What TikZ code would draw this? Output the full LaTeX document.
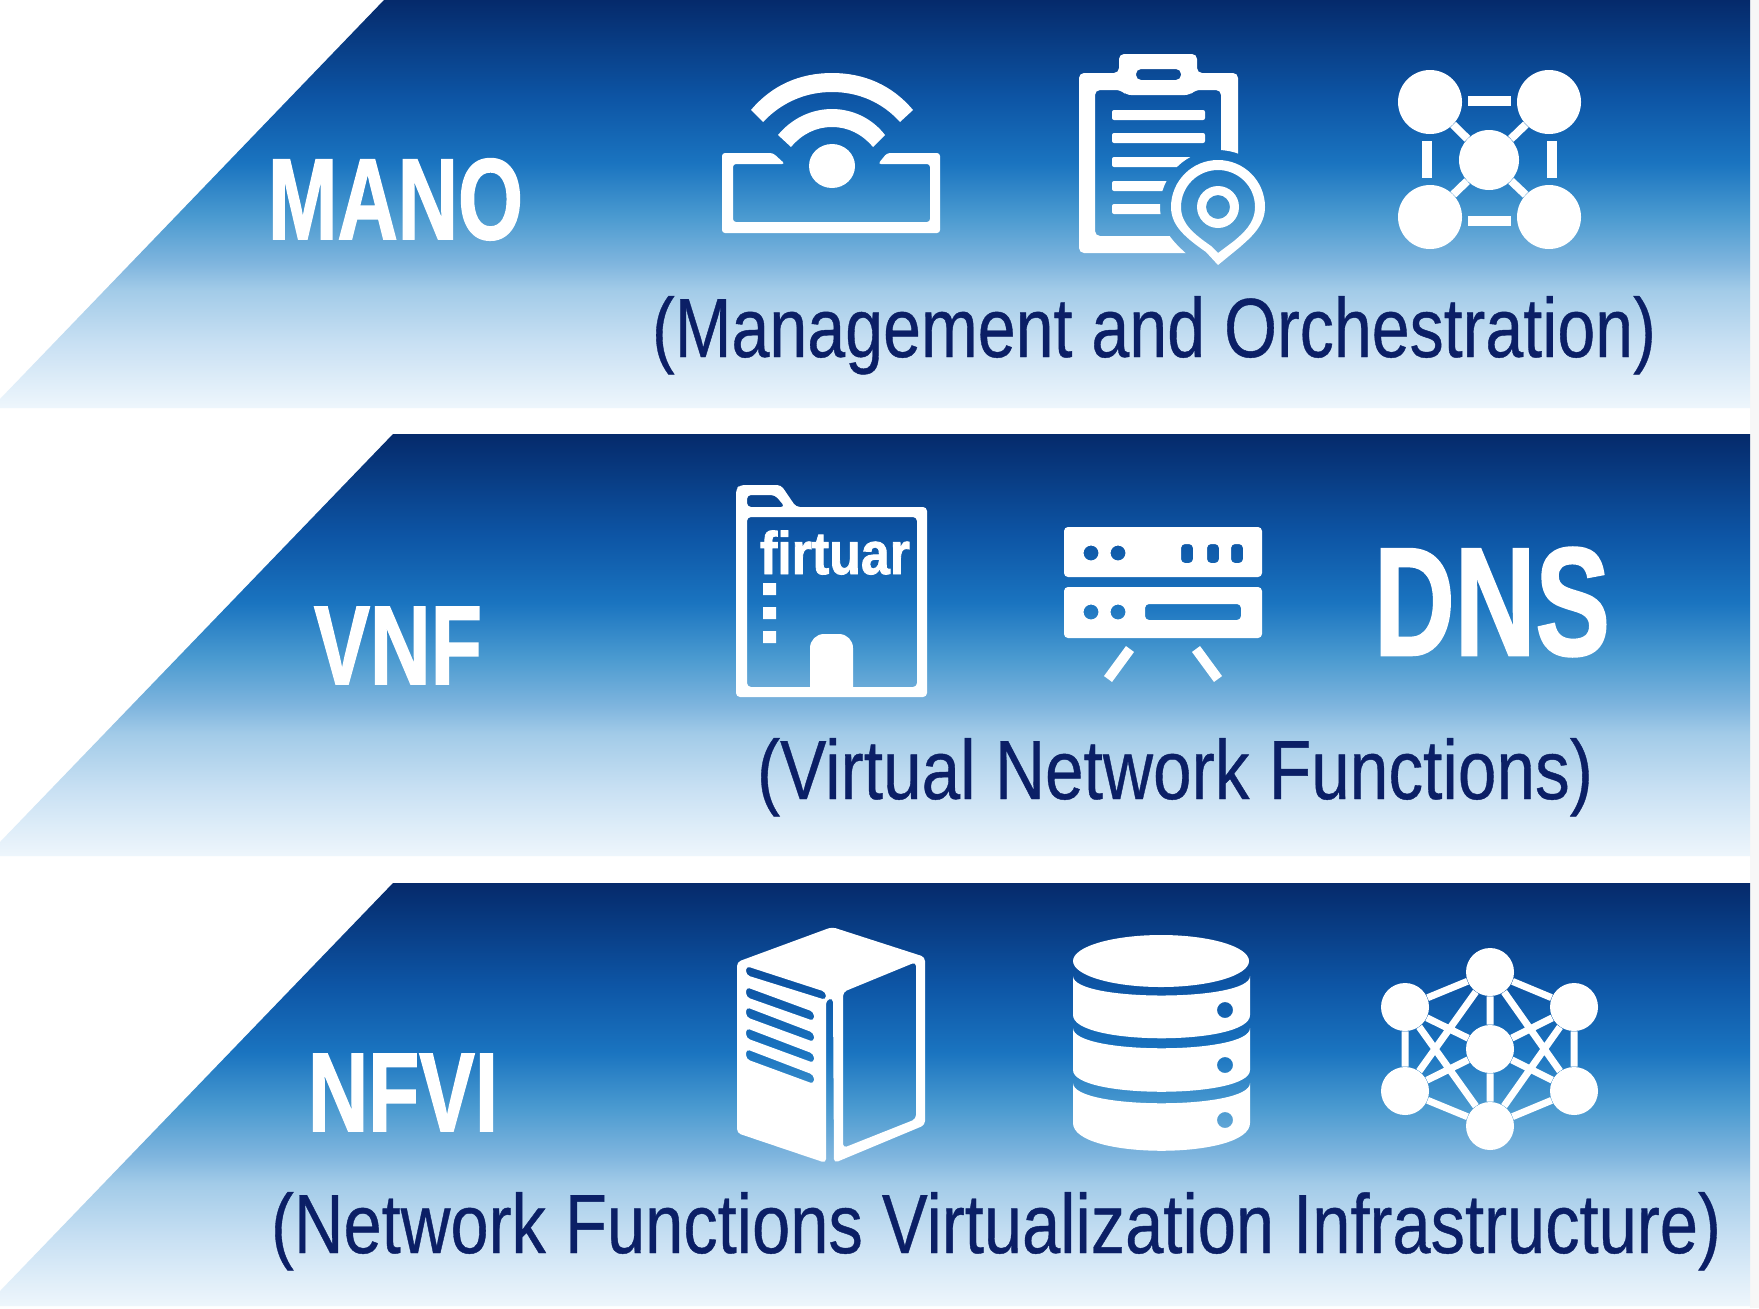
\documentclass[tikz,border=0pt]{standalone}
\usepackage{fontspec}
\setmainfont{Liberation Sans}
\newfontfamily\heavyf{Liberation Sans}[BoldFeatures={FakeBold=1.6}]
\newfontfamily\descf{Liberation Sans}[FakeBold=0.5]
\definecolor{navy}{HTML}{0B1F66}
\definecolor{c0}{HTML}{EEF6FC}
\definecolor{c1}{HTML}{C8E0F3}
\definecolor{c2}{HTML}{A2CBE8}
\definecolor{c3}{HTML}{7FB5DE}
\definecolor{c4}{HTML}{4A9AD0}
\definecolor{c5}{HTML}{1A74C0}
\definecolor{c6}{HTML}{0D55A5}
\definecolor{c7}{HTML}{052A6B}
\definecolor{strip}{HTML}{F7F7F7}
\pgfdeclareverticalshading{bandgrad}{100bp}{
  color(0bp)=(c0);color(25bp)=(c0);color(33bp)=(c1);color(39.5bp)=(c2);color(42.75bp)=(c3);color(48.5bp)=(c4);color(55bp)=(c5);color(63bp)=(c6);color(75bp)=(c7);color(100bp)=(c7)
}
\newcommand{\fitted}[3]{\resizebox{#1pt}{\height}{\fontsize{#2}{#2}\selectfont #3}}
\tikzset{
  band/.style={shading=bandgrad},
  ink/.style={fill=white,draw=none},
  hole/.style={fill=white,even odd rule,draw=none},
  title/.style={text=white,font=\heavyf\bfseries,inner sep=0pt,outer sep=0pt,anchor=base west},
  desc/.style={text=navy,font=\descf,inner sep=0pt,outer sep=0pt,anchor=base west},
  dot/.style={circle,fill=white,draw=none,inner sep=0pt,minimum size=#1},
  link/.style={draw=white,line width=#1},
  bar/.style={fill=white,draw=none,rounded corners=1pt}
}
\begin{document}
\begin{tikzpicture}[x=0.5pt,y=-0.5pt]
\useasboundingbox (0,0) rectangle (1759,1308);
\fill[white] (0,0) rectangle (1759,1308);
\fill[strip] (1750,0) rectangle (1759,1308);
% bands
\shade[band] (384,0) -- (1750,0) -- (1750,408) -- (0,408) -- (0,399) -- cycle;
\shade[band] (393,434) -- (1750,434) -- (1750,856) -- (0,856) -- (0,842) -- cycle;
\shade[band] (393,883) -- (1750,883) -- (1750,1306) -- (0,1306) -- (0,1291) -- cycle;
% titles
\node[title] (mano) at (268,239) {\fitted{127.5}{57.5}{MANO}};
\node[title] (vnf) at (314,684) {\fitted{84}{56}{VNF}};
\node[title] (nfvi) at (308,1131) {\fitted{95}{56}{NFVI}};
\node[title] (dns) at (1374,655) {\fitted{118}{77}{DNS}};
% descriptions
\node[desc] (d1) at (652,357) {\fitted{502}{42}{(Management and Orchestration)}};
\node[desc] (d2) at (757,799) {\fitted{418}{42}{(Virtual Network Functions)}};
\node[desc] (d3) at (271,1253) {\fitted{725}{42}{(Network Functions Virtualization Infrastructure)}};
% router icon
\fill[hole,rounded corners=1.5pt] (722,153) -- (773,153) -- (785,164) -- (733,164) -- (733,222) -- (930,222) -- (930,164) -- (878,164) -- (887,153) -- (940,153) -- (940,233) -- (722,233) -- cycle;
\fill[ink] (832,166) ellipse [x radius=23,y radius=22];
\fill[ink] (751,110) .. controls (772,85) and (800,73) .. (832,73) .. controls (864,73) and (892,85) .. (913,110) -- (900,122) .. controls (882,102) and (858,92) .. (832,92) .. controls (806,92) and (782,102) .. (763,122) -- cycle;
\fill[ink] (778,135) .. controls (792,118) and (812,109) .. (832,109) .. controls (852,109) and (872,118) .. (885,135) -- (873,147) .. controls (862,134) and (848,127) .. (832,127) .. controls (816,127) and (802,134) .. (791,147) -- cycle;
% clipboard icon
\begin{scope}[even odd rule]
\clip (0,0) rectangle (1759,1308)
  (1218,150) .. controls (1250,150) and (1276,176) .. (1276,207) .. controls (1276,232) and (1258,246) .. (1245,258) -- (1218,280) -- (1191,258) .. controls (1178,246) and (1160,232) .. (1160,207) .. controls (1160,176) and (1186,150) .. (1218,150) -- cycle;
\fill[hole,rounded corners=2.5pt] (1079,73) -- (1119,73) -- (1119,54) -- (1197,54) -- (1197,73) -- (1238,73) -- (1238,253) -- (1079,253) -- cycle
  (1095,90) -- (1121,90) -- (1126,95) -- (1190,95) -- (1195,90) -- (1221,90) -- (1221,236) -- (1095,236) -- cycle
  (1136,69) -- (1181,69) -- (1181,80) -- (1136,80) -- cycle;
\fill[bar] (1112,110) rectangle (1205,120);
\fill[bar] (1112,133) rectangle (1205,143);
\fill[bar] (1112,157) rectangle (1205,167);
\fill[bar] (1112,181) rectangle (1205,191);
\fill[bar] (1112,204) rectangle (1205,214);
\end{scope}
\fill[hole] (1218,160) .. controls (1244,160) and (1265,181) .. (1265,207) .. controls (1265,226) and (1250,238) .. (1240,247) -- (1218,265) -- (1206,252) .. controls (1186,238) and (1171,226) .. (1171,207) .. controls (1171,181) and (1192,160) .. (1218,160) -- cycle
 (1218,170) .. controls (1238,170) and (1255,186) .. (1255,207) .. controls (1255,224) and (1242,234) .. (1234,241) -- (1218,253) -- (1211,246) .. controls (1194,234) and (1181,224) .. (1181,207) .. controls (1181,186) and (1198,170) .. (1218,170) -- cycle;
\fill[hole] (1218,207) circle [radius=21] (1218,207) circle [radius=12];
% manage network icon
\node[dot=32pt] (n1) at (1430,102) {};
\node[dot=32pt] (n2) at (1549,102) {};
\node[dot=32pt] (n3) at (1430,217) {};
\node[dot=32pt] (n4) at (1549,217) {};
\node[dot=30pt] (n5) at (1489,160) {};
\draw[link=4pt] (n1) -- (n5) (n2) -- (n5) (n3) -- (n5) (n4) -- (n5);
\coordinate (t1) at (1468,101); \coordinate (t2) at (1511,101);
\coordinate (b1) at (1468,221); \coordinate (b2) at (1511,221);
\coordinate (l1) at (1427,141); \coordinate (l2) at (1427,178);
\coordinate (r1) at (1552,141); \coordinate (r2) at (1552,178);
\draw[link=5pt] (t1) -- (t2) (b1) -- (b2) (l1) -- (l2) (r1) -- (r2);
% folder icon
\fill[hole,rounded corners=2pt] (736,697) -- (736,489) -- (740,485) -- (781,485) -- (796,507) -- (927,507) -- (927,697) -- cycle
  (747,687) -- (917,687) -- (917,517) -- (747,517) -- cycle
  (747,495) -- (775,495) -- (785,507) -- (747,507) -- cycle;
\node[title,anchor=base] (firt) at (835,574) {\fitted{75}{30}{firtuar}};
\fill[ink] (763,583) rectangle (776,595) (763,607) rectangle (776,619) (763,631) rectangle (776,643);
\fill[ink] (810,690) [rounded corners=7pt] -- (810,634) -- (853,634) [sharp corners] -- (853,690) -- cycle;
% server icon
\fill[hole,rounded corners=2pt] (1064,527) -- (1262,527) -- (1262,577) -- (1064,577) -- cycle
  (1181,544) -- (1193,544) -- (1193,563) -- (1181,563) -- cycle
  (1207,544) -- (1219,544) -- (1219,563) -- (1207,563) -- cycle
  (1231,544) -- (1243,544) -- (1243,563) -- (1231,563) -- cycle
  (1091,553) circle [radius=7.5] (1118,553) circle [radius=7.5];
\fill[hole,rounded corners=2pt] (1064,587) -- (1262,587) -- (1262,638) -- (1064,638) -- cycle
  (1145,604) -- (1241,604) -- (1241,620) -- (1145,620) -- cycle
  (1091,612) circle [radius=7.5] (1118,612) circle [radius=7.5];
\coordinate (s1) at (1130,649); \coordinate (s2) at (1108,679);
\coordinate (s3) at (1196,649); \coordinate (s4) at (1218,679);
\draw[link=5pt] (s1) -- (s2) (s3) -- (s4);
% tower icon
\fill[hole,rounded corners=2pt] (832,927) -- (925,957) -- (925,1125) -- (834,1163) -- (833,998) -- (826,1000) -- (826,1163) -- (737,1133) -- (737,962) -- cycle
  (843,992) -- (916,962) -- (916,1119) -- (843,1148) -- cycle
  (746,966) -- (826,992) -- (826,1000) -- (746,975) -- cycle
  (746,987) -- (814,1012) -- (814,1021) -- (746,997) -- cycle
  (746,1007) -- (814,1033) -- (814,1042) -- (746,1017) -- cycle
  (746,1028) -- (814,1054) -- (814,1063) -- (746,1038) -- cycle
  (746,1049) -- (814,1075) -- (814,1084) -- (746,1059) -- cycle;
% database icon
\fill[ink] (1161,961) ellipse [x radius=88,y radius=26];
\fill[hole] (1073,976) .. controls (1073,1002) and (1250,1002) .. (1250,976) -- (1250,1015) .. controls (1250,1046) and (1073,1046) .. (1073,1015) -- cycle (1225,1010) circle [radius=8];
\fill[hole] (1073,1028) .. controls (1073,1055) and (1250,1055) .. (1250,1028) -- (1250,1070) .. controls (1250,1099) and (1073,1099) .. (1073,1070) -- cycle (1225,1065) circle [radius=8];
\fill[hole] (1073,1083) .. controls (1073,1110) and (1250,1110) .. (1250,1083) -- (1250,1123) .. controls (1250,1160) and (1073,1160) .. (1073,1123) -- cycle (1225,1120) circle [radius=8];
% mesh icon
\node[dot=24pt] (m0) at (1490,1049) {};
\node[dot=24pt] (m1) at (1490,972) {};
\node[dot=24pt] (m2) at (1574,1007) {};
\node[dot=24pt] (m3) at (1574,1091) {};
\node[dot=24pt] (m4) at (1490,1126) {};
\node[dot=24pt] (m5) at (1405,1091) {};
\node[dot=24pt] (m6) at (1405,1007) {};
\draw[link=3.5pt] (m1) -- (m2) -- (m3) -- (m4) -- (m5) -- (m6) -- (m1)
  (m1) -- (m0) -- (m4) (m2) -- (m0) -- (m5) (m3) -- (m0) -- (m6)
  (m1) -- (m3) (m1) -- (m5) (m4) -- (m2) (m4) -- (m6);
\end{tikzpicture}
\end{document}
